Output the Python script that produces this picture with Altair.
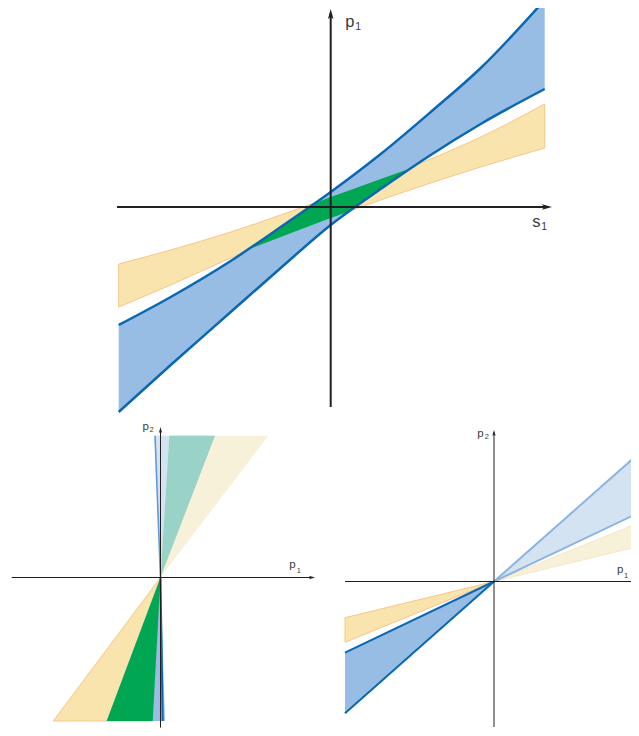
import altair as alt
import pandas as pd

# ---------------- colours ----------------
BLUE_FILL = "#98bde4"
DARK_BLUE = "#0a67b2"
YELLOW = "#f9e4ae"
YELLOW_EDGE = "#f6c688"
GREEN = "#00a651"
TEAL = "#99d3c7"
LIGHT_BLUE = "#d4e3f2"
PALE_YELLOW = "#f8f1da"
PALE_YELLOW_EDGE = "#f3e2bd"
MID_BLUE = "#8cb4e0"
LINE_BLUE = "#5f9ad6"
AXIS = "#231f20"
TEXT = "#3a3a3a"
FONT = "Liberation Sans"

# ---------------- top panel data (s1 -> p1) ----------------
top_x = [-21.2, -16, -10, -5, 0, 5, 10, 15, 21.4]
blue_upper = [-11.8, -9.0, -5.4, -2.0, 1.5, 5.3, 9.5, 13.9, 20.7]
blue_lower = [-20.5, -15.8, -10.5, -6.1, -1.8, 1.8, 5.2, 8.3, 11.8]
yellow_upper = [-5.7, -4.3, -2.5, -0.8, 1.0, 2.8, 4.8, 7.0, 10.3]
yellow_lower = [-10.0, -7.8, -5.1, -3.0, -1.1, 0.7, 2.4, 4.0, 5.9]
green_x = [-8.4, -5, -1.6, 0, 1.9, 5, 7.8]
green_upper = [-4.3, -2.0, 0.38, 1.0, 1.68, 2.8, 3.8]
green_lower = [-4.3, -3.0, -1.7, -1.1, -0.42, 1.8, 3.8]

# ---------------- bottom-left panel data (p1, p2) ----------------
bl_lower_y = -14.35
bl_lower_yellow = [-10.72, -0.78]
bl_lower_blue = [-5.38, 0.45]
bl_lower_green = [-5.38, -0.78]
bl_lower_line = 0.22
bl_upper_y = 14.18
bl_upper_blue = [-0.55, 5.45]
bl_upper_yellow = [0.88, 10.78]
bl_upper_teal = [0.88, 5.45]
bl_upper_line = -0.55

# ---------------- bottom-right panel data (p1, p2) ----------------
br_left_x = -14.9
br_lower_yellow = [-3.62, -6.08]
br_lower_blue = [-7.12, -13.18]
br_right_x = 14.5
br_upper_blue = [12.82, 6.88]
br_upper_yellow = [5.88, 3.52]

RIGHT_ARROW = "M1,0L-1,-0.55L-0.6,0L-1,0.55Z"
UP_ARROW = "M0,-1L0.55,1L0,0.6L-0.55,1Z"


def X(field, dom):
    return alt.X(f"{field}:Q", scale=alt.Scale(domain=dom, nice=False, zero=False), axis=None)


def Y(field, dom):
    return alt.Y(f"{field}:Q", scale=alt.Scale(domain=dom, nice=False, zero=False), axis=None)


def rules(df, xd, yd, color, width):
    return alt.Chart(df).mark_rule(color=color, strokeWidth=width, clip=True).encode(
        x=X("x", xd), y=Y("y", yd), x2="x2:Q", y2="y2:Q")


def arrow(df, xd, yd, shape, size):
    return alt.Chart(df).mark_point(shape=shape, filled=True, size=size, color=AXIS,
                                    opacity=1, strokeWidth=0).encode(x=X("x", xd), y=Y("y", yd))


def label(df, xd, yd, fs):
    return alt.Chart(df).mark_text(align="left", baseline="alphabetic", font=FONT,
                                   fontSize=fs, color=TEXT).encode(
        x=X("x", xd), y=Y("y", yd), text="t:N")


# ================= TOP =================
TXD = [-32.27, 30.03]
TYD = [-20.9, 19.9]
top_df = pd.DataFrame({"x": top_x, "bu": blue_upper, "bl": blue_lower,
                       "yu": yellow_upper, "yl": yellow_lower})
green_df = pd.DataFrame({"x": green_x, "gu": green_upper, "gl": green_lower})

t_yellow = alt.Chart(top_df).mark_area(interpolate="monotone", fill=YELLOW, stroke=YELLOW_EDGE,
                                       strokeWidth=1, clip=True).encode(
    x=X("x", TXD), y=Y("yu", TYD), y2="yl:Q")
t_blue = alt.Chart(top_df).mark_area(interpolate="monotone", fill=BLUE_FILL, clip=True).encode(
    x=X("x", TXD), y=Y("bu", TYD), y2="bl:Q")
t_green = alt.Chart(green_df).mark_area(interpolate="linear", fill=GREEN, clip=True).encode(
    x=X("x", TXD), y=Y("gu", TYD), y2="gl:Q")
t_line_u = alt.Chart(top_df).mark_line(interpolate="monotone", color=DARK_BLUE, strokeWidth=2.5,
                                       clip=True).encode(x=X("x", TXD), y=Y("bu", TYD))
t_line_l = alt.Chart(top_df).mark_line(interpolate="monotone", color=DARK_BLUE, strokeWidth=2.5,
                                       clip=True).encode(x=X("x", TXD), y=Y("bl", TYD))
t_axes = rules(pd.DataFrame({"x": [-21.37, 0], "y": [0, -20.0], "x2": [21.6, 0], "y2": [0, 19.4]}),
               TXD, TYD, AXIS, 2)
t_ar = arrow(pd.DataFrame({"x": [21.63], "y": [0]}), TXD, TYD, RIGHT_ARROW, 100)
t_au = arrow(pd.DataFrame({"x": [0], "y": [19.3]}), TXD, TYD, UP_ARROW, 100)
t_lab = label(pd.DataFrame({"x": [1.45, 20.15], "y": [18.0, -1.97], "t": ["p", "s"]}), TXD, TYD, 16.5)
t_sub = label(pd.DataFrame({"x": [2.45, 21.05], "y": [17.7, -2.25], "t": ["1", "1"]}), TXD, TYD, 10.5)

top = alt.layer(t_yellow, t_blue, t_green, t_line_u, t_line_l, t_axes, t_ar, t_au,
                t_lab, t_sub).properties(width=623, height=408)

# ================= BOTTOM LEFT =================
LXD = [-15.25, 16.95]
LYD = [-15.05, 16.15]


def wedge_h(base_y, rng, fill, stroke=None, sw=0):
    df = pd.DataFrame({"y": [0, base_y], "x": [0, rng[0]], "x2": [0, rng[1]]})
    kw = dict(orient="horizontal", fill=fill, clip=True)
    if stroke is not None:
        kw.update(stroke=stroke, strokeWidth=sw)
    return alt.Chart(df).mark_area(**kw).encode(x=X("x", LXD), x2="x2:Q", y=Y("y", LYD))


bl_layers = [
    wedge_h(bl_lower_y, bl_lower_yellow, YELLOW, YELLOW_EDGE, 1),
    wedge_h(bl_lower_y, bl_lower_blue, BLUE_FILL),
    wedge_h(bl_lower_y, bl_lower_green, GREEN),
    wedge_h(bl_upper_y, bl_upper_blue, LIGHT_BLUE),
    wedge_h(bl_upper_y, bl_upper_yellow, PALE_YELLOW),
    wedge_h(bl_upper_y, bl_upper_teal, TEAL),
    rules(pd.DataFrame({"x": [0], "y": [0], "x2": [bl_lower_line], "y2": [bl_lower_y]}),
          LXD, LYD, DARK_BLUE, 2),
    rules(pd.DataFrame({"x": [0], "y": [0], "x2": [bl_upper_line], "y2": [bl_upper_y]}),
          LXD, LYD, LINE_BLUE, 1.6),
    rules(pd.DataFrame({"x": [-14.88, 0], "y": [0, -15.0], "x2": [15.0, 0], "y2": [0, 14.8]}),
          LXD, LYD, AXIS, 1),
    arrow(pd.DataFrame({"x": [15.15], "y": [0]}), LXD, LYD, RIGHT_ARROW, 36),
    arrow(pd.DataFrame({"x": [0], "y": [14.75]}), LXD, LYD, UP_ARROW, 36),
    label(pd.DataFrame({"x": [-1.8, 12.88], "y": [14.8, 0.92], "t": ["p", "p"]}), LXD, LYD, 11.5),
    label(pd.DataFrame({"x": [-1.1, 13.62], "y": [14.55, 0.42], "t": ["2", "1"]}), LXD, LYD, 7.5),
]
bl = alt.layer(*bl_layers).properties(width=322, height=312)

# ================= BOTTOM RIGHT =================
RXD = [-16.4, 13.7]
RYD = [-14.65, 16.55]


def wedge_v(end_x, rng, fill, stroke=None, sw=0):
    df = pd.DataFrame({"x": [0, end_x], "y": [0, rng[0]], "y2": [0, rng[1]]})
    kw = dict(fill=fill, clip=True)
    if stroke is not None:
        kw.update(stroke=stroke, strokeWidth=sw)
    return alt.Chart(df).mark_area(**kw).encode(x=X("x", RXD), y=Y("y", RYD), y2="y2:Q")


br_layers = [
    wedge_v(br_left_x, br_lower_yellow, YELLOW, YELLOW_EDGE, 1),
    wedge_v(br_left_x, br_lower_blue, BLUE_FILL),
    wedge_v(br_right_x, br_upper_blue, LIGHT_BLUE),
    wedge_v(br_right_x, br_upper_yellow, PALE_YELLOW, PALE_YELLOW_EDGE, 0.8),
    rules(pd.DataFrame({"x": [0, 0], "y": [0, 0], "x2": [br_left_x, br_left_x],
                        "y2": [br_lower_blue[0], br_lower_blue[1]]}), RXD, RYD, DARK_BLUE, 2),
    rules(pd.DataFrame({"x": [0, 0], "y": [0, 0], "x2": [br_right_x, br_right_x],
                        "y2": [br_upper_blue[0], br_upper_blue[1]]}), RXD, RYD, MID_BLUE, 2),
    rules(pd.DataFrame({"x": [-14.9, 0], "y": [0, -14.55], "x2": [14.5, 0], "y2": [0, 14.9]}),
          RXD, RYD, AXIS, 1),
    arrow(pd.DataFrame({"x": [0], "y": [14.85]}), RXD, RYD, UP_ARROW, 36),
    label(pd.DataFrame({"x": [-1.67, 12.3], "y": [14.5, 0.9], "t": ["p", "p"]}), RXD, RYD, 11.5),
    label(pd.DataFrame({"x": [-0.92, 13.0], "y": [14.22, 0.35], "t": ["2", "1"]}), RXD, RYD, 7.5),
]
br = alt.layer(*br_layers).properties(width=301, height=312)

chart = alt.vconcat(
    top,
    alt.hconcat(bl, br, spacing=0, bounds="flush"),
    spacing=0,
    bounds="flush",
).properties(padding=0, background="white").configure_view(stroke="transparent", strokeWidth=0)

chart.save("out.html", embed_options={"renderer": "svg", "actions": False})
